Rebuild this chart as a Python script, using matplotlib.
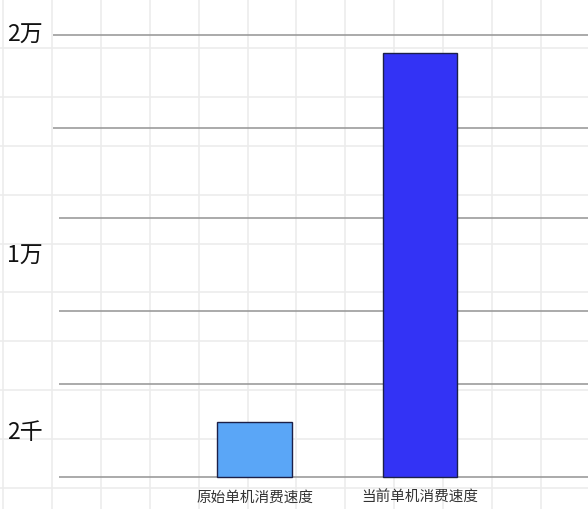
import matplotlib
matplotlib.use("Agg")
import matplotlib.pyplot as plt
import numpy as np

plt.rcParams['font.family'] = ['Noto Sans CJK SC', 'DejaVu Sans']

categories = ["原始单机消费速度", "当前单机消费速度"]
values = [2500, 19200]
bar_colors = ["#5aa6f7", "#3333f5"]
tick_values = [20000, 10000, 2000]
tick_labels = ["2万", "1万", "2千"]
guide_levels = [20000, 15800, 11700, 7500, 4200, 0]
guide_starts = [53, 53, 59, 59, 59, 59]  # pixel x where each guide line begins

W, H = 588, 509
fig = plt.figure(figsize=(W / 100, H / 100), dpi=100)
fig.patch.set_facecolor("white")

# graph-paper background
bg = fig.add_axes([0, 0, 1, 1], zorder=0)
bg.set_xlim(0, W)
bg.set_ylim(H, 0)
bg.axis("off")
for gx in np.arange(3, W, 48.9):
    bg.axvline(gx, color="#ececec", lw=1.2)
for gy in np.arange(-1, H, 48.9):
    bg.axhline(gy, color="#ececec", lw=1.2)

ax = fig.add_axes([0, 0, 1, 1], zorder=1)
ax.patch.set_alpha(0)
px_per_unit = 165.5
x0 = 254.5
ax.set_xlim((0 - x0) / px_per_unit, (W - x0) / px_per_unit)
px_per_val = 442 / 20000
ax.set_ylim(-(H - 477) / px_per_val, 477 / px_per_val)

for lvl, xs in zip(guide_levels, guide_starts):
    ax.hlines(lvl, xs / W, 1, transform=ax.get_yaxis_transform(),
              color="#9c9c9c", lw=1.2, zorder=1)

x = np.arange(len(categories))
ax.bar(x, values, width=0.45, color=bar_colors, edgecolor="#1c2048",
       linewidth=1.0, zorder=3)

for v, lab in zip(tick_values, tick_labels):
    ax.text(43 / W, v, lab, transform=ax.get_yaxis_transform(),
            ha="right", va="center", fontsize=16.5, color="#111111",
            fontweight="medium")

for xi, c in zip(x, categories):
    ax.text(xi, -(498 - 477) / px_per_val, c, ha="center", va="center",
            fontsize=10.5, color="#333333", fontweight="medium")

ax.axis("off")
fig.savefig("out.png", dpi=100, facecolor="white")
